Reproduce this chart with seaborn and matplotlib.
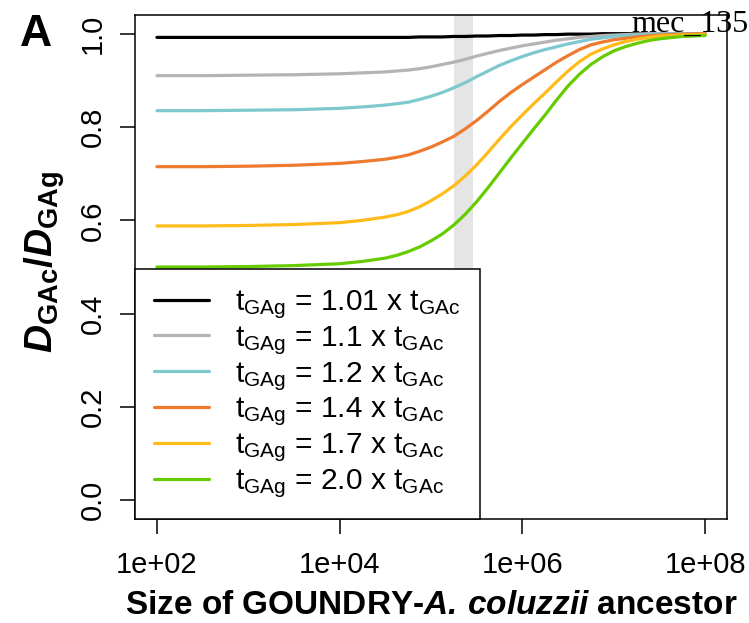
import matplotlib
matplotlib.use("Agg")
import matplotlib.pyplot as plt
import numpy as np
import pandas as pd
import seaborn as sns
from matplotlib.ticker import NullLocator

# ---------------- data ----------------
ancestor_size = [1e2, 316, 1e3, 3162, 1e4, 17783,
                 31623, 42170, 56234, 74989, 1e5, 133352, 177828, 237137,
                 316228, 421697, 562341, 749894, 1e6, 1333521, 1778279, 2371374,
                 3162278, 4216965, 5623413, 7498942, 1e7, 13335214, 17782794,
                 23713737, 31622777, 56234133, 1e8]

ratio_t101 = [0.992, 0.992, 0.992, 0.992, 0.992, 0.992,
              0.992, 0.992, 0.992, 0.993, 0.993, 0.993, 0.994, 0.994,
              0.995, 0.995, 0.996, 0.996, 0.997, 0.997, 0.998, 0.998,
              0.999, 0.999, 0.999, 1.000, 1.000, 1.000, 1.000,
              1.000, 1.000, 1.000, 1.000]
ratio_t110 = [0.910, 0.910, 0.911, 0.912, 0.914, 0.916,
              0.918, 0.920, 0.922, 0.925, 0.929, 0.934, 0.939, 0.945,
              0.952, 0.958, 0.964, 0.969, 0.974, 0.978, 0.982, 0.986,
              0.989, 0.992, 0.994, 0.996, 0.997, 0.998, 0.999,
              1.000, 1.000, 1.000, 1.000]
ratio_t120 = [0.835, 0.835, 0.836, 0.837, 0.840, 0.843,
              0.847, 0.850, 0.853, 0.859, 0.866, 0.874, 0.884, 0.895,
              0.908, 0.920, 0.932, 0.942, 0.951, 0.959, 0.966, 0.972,
              0.978, 0.983, 0.988, 0.991, 0.994, 0.996, 0.997,
              0.998, 0.999, 1.000, 1.000]
ratio_t140 = [0.715, 0.715, 0.716, 0.718, 0.722, 0.726,
              0.731, 0.735, 0.740, 0.748, 0.757, 0.768, 0.780, 0.796,
              0.814, 0.834, 0.855, 0.874, 0.891, 0.907, 0.923, 0.939,
              0.953, 0.966, 0.976, 0.982, 0.987, 0.990, 0.993,
              0.995, 0.997, 0.999, 1.000]
ratio_t170 = [0.588, 0.588, 0.589, 0.591, 0.595, 0.600,
              0.607, 0.612, 0.619, 0.629, 0.642, 0.657, 0.674, 0.695,
              0.719, 0.746, 0.774, 0.801, 0.826, 0.850, 0.873, 0.897,
              0.920, 0.940, 0.956, 0.967, 0.976, 0.983, 0.988,
              0.992, 0.995, 0.997, 0.998]
ratio_t200 = [0.500, 0.500, 0.501, 0.503, 0.507, 0.512,
              0.519, 0.525, 0.533, 0.543, 0.556, 0.571, 0.590, 0.613,
              0.640, 0.670, 0.702, 0.734, 0.765, 0.796, 0.826, 0.858,
              0.888, 0.913, 0.934, 0.950, 0.963, 0.972, 0.979,
              0.985, 0.989, 0.994, 0.996]

series_labels = [r"$t_{GAg}$ = 1.01 x $t_{GAc}$",
                 r"$t_{GAg}$ = 1.1 x $t_{GAc}$",
                 r"$t_{GAg}$ = 1.2 x $t_{GAc}$",
                 r"$t_{GAg}$ = 1.4 x $t_{GAc}$",
                 r"$t_{GAg}$ = 1.7 x $t_{GAc}$",
                 r"$t_{GAg}$ = 2.0 x $t_{GAc}$"]
series_colors = ["#000000", "#b4b4b4", "#7ec8d0", "#ee7a2e", "#ffbb1a", "#66cc00"]

band_range = [1.8e5, 2.85e5]

x_ticks = [1e2, 1e4, 1e6, 1e8]
x_tick_labels = ["1e+02", "1e+04", "1e+06", "1e+08"]
y_ticks = [0.0, 0.2, 0.4, 0.6, 0.8, 1.0]
y_tick_labels = ["0.0", "0.2", "0.4", "0.6", "0.8", "1.0"]

all_series = [ratio_t101, ratio_t110, ratio_t120, ratio_t140, ratio_t170, ratio_t200]
df = pd.concat([pd.DataFrame({"size": ancestor_size, "ratio": vals, "series": lab})
                for lab, vals in zip(series_labels, all_series)], ignore_index=True)

# ---------------- style ----------------
sns.set_style("ticks")
plt.rcParams["font.family"] = ["Liberation Sans", "DejaVu Sans"]
plt.rcParams["mathtext.fontset"] = "custom"
plt.rcParams["mathtext.rm"] = "Liberation Sans"
plt.rcParams["mathtext.it"] = "Liberation Sans:italic"
plt.rcParams["mathtext.bf"] = "Liberation Sans:bold"
plt.rcParams["mathtext.bfit"] = "Liberation Sans:italic:bold"
plt.rcParams["mathtext.default"] = "regular"
for key in ["text.color", "axes.labelcolor", "xtick.color", "ytick.color",
            "axes.edgecolor", "xtick.labelcolor", "ytick.labelcolor"]:
    plt.rcParams[key] = "black"

W, H = 749, 623
fig = plt.figure(figsize=(W / 100, H / 100), dpi=100)
ax_l, ax_r, ax_t, ax_b = 135, 727, 15, 519
ax = fig.add_axes([ax_l / W, 1 - ax_b / H, (ax_r - ax_l) / W, (ax_b - ax_t) / H])

ax.axvspan(band_range[0], band_range[1], color="#e5e5e5", lw=0, zorder=0)

sns.lineplot(data=df, x="size", y="ratio", hue="series", hue_order=series_labels,
             palette=series_colors, linewidth=2.3, estimator=None, sort=False,
             legend=False, ax=ax, zorder=2)

ax.set_xscale("log")
ax.set_xlim(10 ** 1.76, 10 ** 8.24)
ax.set_ylim(-0.04, 1.04)
ax.set_xticks(x_ticks, labels=x_tick_labels)
ax.xaxis.set_minor_locator(NullLocator())
ax.set_yticks(y_ticks, labels=y_tick_labels)
for lab in ax.get_yticklabels():
    lab.set_rotation(90)
    lab.set_va("center")
ax.tick_params(axis="both", length=11, width=1.1, color="black", labelsize=21,
               labelcolor="black", direction="out")
ax.tick_params(axis="x", pad=12)
ax.tick_params(axis="y", pad=9)
for s in ax.spines.values():
    s.set_visible(True)
    s.set_color("black")
    s.set_linewidth(1.1)
ax.set_xlabel("")
ax.set_ylabel("")

handles = ax.get_lines()[:6]
leg = ax.legend(handles=handles, labels=series_labels, loc="lower left",
                bbox_to_anchor=(0, 0, (480 - ax_l) / (ax_r - ax_l), 1), mode="expand",
                fontsize=21.5, frameon=True, fancybox=False, edgecolor="black",
                framealpha=1, borderaxespad=0, handlelength=1.85, handletextpad=0.87,
                labelspacing=0.1, borderpad=0.64)
leg.get_frame().set_linewidth(1.1)
for h in leg.get_lines():
    h.set_linewidth(2.3)

fig.text(431 / W, 1 - 605 / H,
         r"Size of GOUNDRY-$\mathbfit{A.\,coluzzii}$ ancestor",
         fontsize=24, fontweight="bold", ha="center", va="center")
fig.text(45 / W, 1 - 262 / H,
         r"$\mathbfit{D}_{\mathbf{GAc}}\mathbf{/}\mathbfit{D}_{\mathbf{GAg}}$",
         fontsize=28, rotation=90, ha="center", va="center")
fig.text(36 / W, 1 - 34 / H, "A", fontsize=32, fontweight="bold", ha="center", va="center")
fig.text(631 / W, 1 - 32 / H, "mec_135", fontsize=23, family="Liberation Serif",
         ha="left", va="baseline")

fig.savefig("out.png", dpi=100)
